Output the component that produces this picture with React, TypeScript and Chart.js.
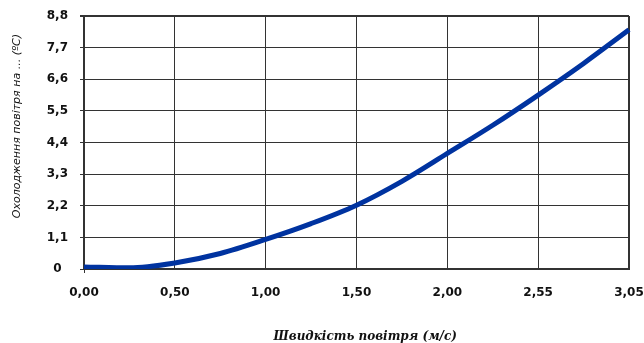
import React, { useEffect, useRef } from "react";
import { Chart, registerables } from "chart.js";

Chart.register(...registerables);

// Air speed categories (m/s); only every second one carries a tick label
const airSpeed = ["0", "0.25", "0.5", "0.75", "1", "1.25", "1.5", "1.75", "2", "2.275", "2.55", "2.8", "3.05"];
const speedTickLabels = ["0,00", "0,50", "1,00", "1,50", "2,00", "2,55", "3,05"];

// Air cooling (°C)
const coolingValues = [0.07, 0.04, 0.21, 0.54, 1.03, 1.58, 2.22, 3.05, 4.02, 5.0, 6.05, 7.15, 8.32];

const coolingTicks = [0, 1.1, 2.2, 3.3, 4.4, 5.5, 6.6, 7.7, 8.8];
const coolingTickLabels = ["0", "1,1", "2,2", "3,3", "4,4", "5,5", "6,6", "7,7", "8,8"];

const xTitle = "Швидкість повітря (м/с)";
const yTitle = "Охолодження повітря на ... (ºC)";

const GRID = "#333333";
const CLEAR = "rgba(0,0,0,0)";

const axisTitlePlugin = {
  id: "axisTitles",
  afterDraw(chart: any) {
    const { ctx, chartArea: a } = chart;
    ctx.save();
    ctx.fillStyle = "#111111";
    ctx.textAlign = "center";
    ctx.textBaseline = "middle";
    ctx.font = 'italic bold 12px "DejaVu Serif"';
    ctx.fillText(xTitle, a.left + a.width * 0.516, a.bottom + 68);
    ctx.translate(17, a.top + a.height * 0.435);
    ctx.rotate(-Math.PI / 2);
    ctx.font = 'italic 11px "DejaVu Sans"';
    ctx.fillText(yTitle, 0, 0);
    ctx.restore();
  },
};

export default function App() {
  const canvasRef = useRef<HTMLCanvasElement | null>(null);

  useEffect(() => {
    if (!canvasRef.current) return;
    const chart = new Chart(canvasRef.current, {
      type: "line",
      data: {
        labels: airSpeed,
        datasets: [
          {
            data: coolingValues,
            borderColor: "#0033A0",
            borderWidth: 5,
            pointRadius: 0,
            fill: false,
            cubicInterpolationMode: "monotone",
          },
        ],
      },
      options: {
        responsive: false,
        animation: false,
        layout: { padding: { left: 0, right: 15, top: 16, bottom: 0 } },
        plugins: {
          legend: { display: false },
          tooltip: { enabled: false },
        },
        scales: {
          x: {
            type: "category",
            offset: false,
            grid: {
              color: (c: any) => (c.index % 2 === 0 ? GRID : CLEAR),
              lineWidth: (c: any) => (c.index === airSpeed.length - 1 ? 2 : 1),
              tickLength: 4,
              tickColor: (c: any) => (c.index === 0 ? GRID : CLEAR),
            },
            border: { color: GRID, width: 2 },
            ticks: {
              autoSkip: false,
              maxRotation: 0,
              padding: 13,
              color: "#111111",
              font: { family: "DejaVu Sans", weight: "bold", size: 12 },
              callback: (_v: any, i: number) => (i % 2 === 0 ? speedTickLabels[i / 2] : ""),
            },
            afterFit: (s: any) => {
              s.height = 74;
              s.paddingLeft = 0;
              s.paddingRight = 0;
            },
          },
          y: {
            min: 0,
            max: 8.8,
            afterBuildTicks: (s: any) => {
              s.ticks = coolingTicks.map((v) => ({ value: v }));
            },
            grid: {
              color: GRID,
              lineWidth: (c: any) => (c.index === coolingTicks.length - 1 ? 2 : 1),
              tickLength: 4,
            },
            border: { color: GRID, width: 2 },
            ticks: {
              crossAlign: "center",
              padding: 12,
              color: "#111111",
              font: { family: "DejaVu Sans", weight: "bold", size: 12 },
              callback: (_v: any, i: number) => coolingTickLabels[i],
            },
            afterFit: (s: any) => {
              s.width = 84;
              s.paddingTop = 0;
              s.paddingBottom = 0;
            },
          },
        },
      },
      plugins: [axisTitlePlugin],
    } as any);
    return () => chart.destroy();
  }, []);

  return (
    <div style={{ position: "absolute", left: 0, top: 0, width: 644, height: 343, background: "#ffffff" }}>
      <canvas ref={canvasRef} width={644} height={343} style={{ width: 644, height: 343 }} />
    </div>
  );
}
